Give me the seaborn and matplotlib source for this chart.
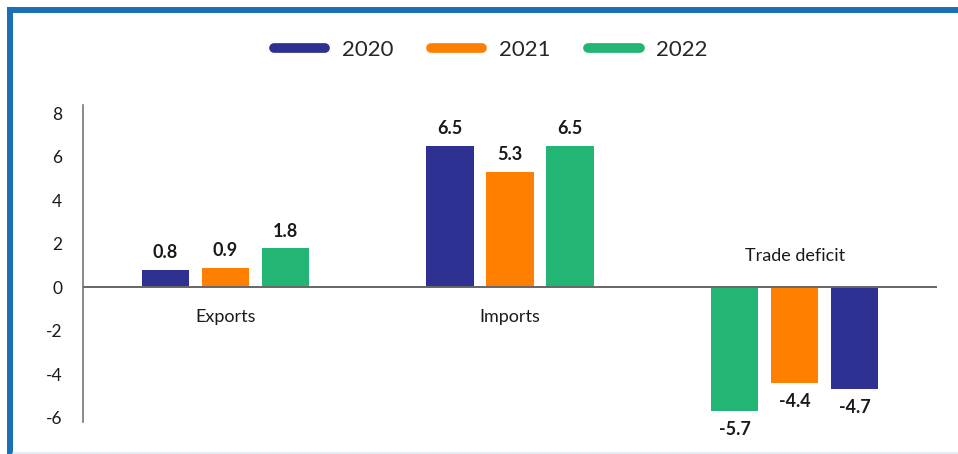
import matplotlib
matplotlib.use("Agg")
import matplotlib.pyplot as plt
import seaborn as sns
import pandas as pd
from matplotlib.lines import Line2D

# ---- data -------------------------------------------------------------
categories = ["Exports", "Imports", "Trade deficit"]
years = ["2020", "2021", "2022"]
exports = [0.8, 0.9, 1.8]           # 2020, 2021, 2022
imports = [6.5, 5.3, 6.5]           # 2020, 2021, 2022
trade_deficit = [-4.7, -4.4, -5.7]  # 2020, 2021, 2022
y_ticks = [-6, -4, -2, 0, 2, 4, 6, 8]

# left-to-right bar order inside each group
slot_years = {
    "Exports": ["2020", "2021", "2022"],
    "Imports": ["2020", "2021", "2022"],
    "Trade deficit": ["2022", "2021", "2020"],
}
series = {"Exports": exports, "Imports": imports, "Trade deficit": trade_deficit}
colors = {"2020": "#2E3192", "2021": "#FF7F00", "2022": "#23B574"}

rows = []
for cat in categories:
    for slot, yr in enumerate(slot_years[cat]):
        rows.append({"category": cat, "slot": f"s{slot}", "year": yr,
                     "value": series[cat][years.index(yr)]})
df = pd.DataFrame(rows)

# ---- figure -----------------------------------------------------------
sns.set_style("white")
plt.rcParams["font.family"] = ["Lato", "DejaVu Sans"]

fig = plt.figure(figsize=(9.58, 4.54), dpi=100)
ax = fig.add_axes([83 / 958, 1 - 422 / 454, (937 - 83) / 958, (422 - 105) / 454])

slot_width = 0.211
sns.barplot(data=df, x="category", y="value", hue="slot", order=categories,
            hue_order=["s0", "s1", "s2"], palette=["#999999"] * 3,
            width=3 * slot_width, gap=0.21, errorbar=None, legend=False,
            saturation=1, ax=ax)

# colour each bar by its year and label it with its value
for p in ax.patches:
    w = p.get_width()
    if w == 0:
        continue
    cx = p.get_x() + w / 2
    ci = int(round(cx))
    si = int(round((cx - ci) / slot_width)) + 1
    yr = slot_years[categories[ci]][si]
    p.set_facecolor(colors[yr])
    p.set_edgecolor("none")
    h = p.get_height()
    if h >= 0:
        ax.annotate(f"{h:.1f}", (cx, h), xytext=(0, 6), textcoords="offset points",
                    ha="center", va="bottom", fontsize=13, fontweight="bold",
                    color="#1a1a1a")
    else:
        ax.annotate(f"{h:.1f}", (cx, h), xytext=(0, -7), textcoords="offset points",
                    ha="center", va="top", fontsize=13, fontweight="bold",
                    color="#1a1a1a")

ax.set_xlim(-0.5, 2.5)
ax.set_ylim(-6.2, 8.37)
ax.set_yticks(y_ticks)
ax.set_yticklabels([str(t) for t in y_ticks])
ax.tick_params(axis="y", length=0, pad=15, labelsize=12.5, labelcolor="#1a1a1a")
ax.set_xticks([])
ax.set_xlabel("")
ax.set_ylabel("")

for s in ["top", "right", "bottom"]:
    ax.spines[s].set_visible(False)
ax.spines["left"].set_color("#777777")
ax.spines["left"].set_linewidth(1.2)
ax.axhline(0, color="#666666", lw=1.4, zorder=3)

# category names sit on the side of the zero line away from the bars
for i, cat in enumerate(categories):
    vals = series[cat]
    if min(vals) < 0:
        ax.text(i, 1.42, cat, ha="center", va="center", fontsize=13, color="#1a1a1a")
    else:
        ax.text(i, -1.38, cat, ha="center", va="center", fontsize=13, color="#1a1a1a")

# legend
handles = [Line2D([0], [0], color=colors[y], lw=7, solid_capstyle="round") for y in years]
fig.legend(handles, years, loc="center", bbox_to_anchor=(491 / 958, 1 - 50 / 454),
           ncol=3, frameon=False, fontsize=16, handlelength=2.3, handletextpad=0.75,
           columnspacing=1.7)

# panel frame
fig.add_artist(Line2D([7 / 958, 1], [1 - 10 / 454, 1 - 10 / 454], color="#1A70B8",
                      lw=4.3, transform=fig.transFigure, solid_capstyle="butt"))
fig.add_artist(Line2D([10 / 958, 10 / 958], [1 - 7 / 454, 0], color="#1A70B8",
                      lw=4.3, transform=fig.transFigure, solid_capstyle="butt"))
fig.add_artist(Line2D([13 / 958, 1], [1.5 / 454, 1.5 / 454], color="#E3ECF5",
                      lw=2, transform=fig.transFigure))

fig.savefig("out.png", dpi=100)
